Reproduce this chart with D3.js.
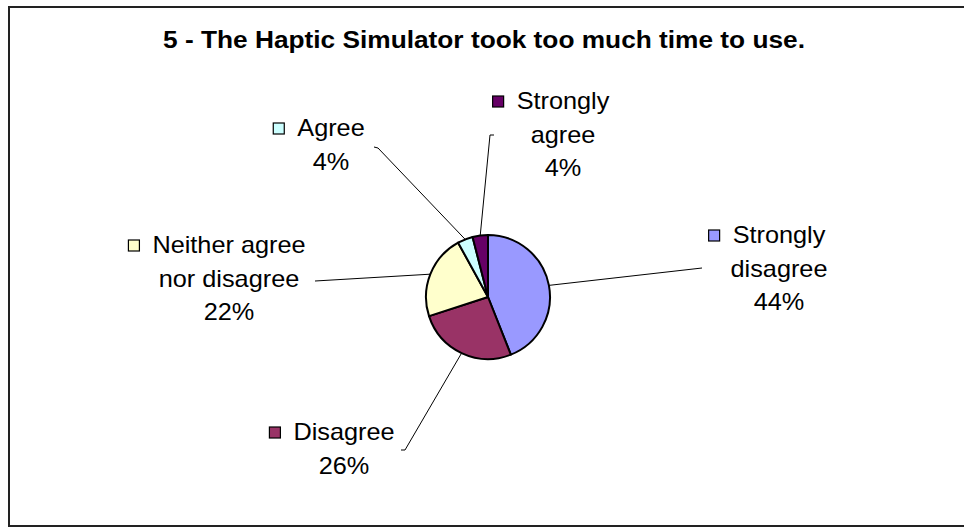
<!DOCTYPE html>
<html>
<head>
<meta charset="utf-8">
<script src="https://cdn.jsdelivr.net/npm/d3@7"></script>
<style>
  body { margin: 0; background: #fff; }
  text { font-family: "Liberation Sans", Arial, sans-serif; fill: #000; }
</style>
</head>
<body>
<div id="chart"></div>
<script>
// survey answers, in the order Excel draws them (clockwise from 12 o'clock)
let categories = ['Strongly disagree', 'Disagree', 'Neither agree nor disagree', 'Agree', 'Strongly agree'];
let shares = [44, 26, 22, 4, 4];
let sliceColors = ['#9999FF', '#993366', '#FFFFCC', '#CCFFFF', '#660066'];
let labelLines = [
    ['Strongly', 'disagree'],
    ['Disagree'],
    ['Neither agree', 'nor disagree'],
    ['Agree'],
    ['Strongly', 'agree']
];

let svgwidth = 964;
let svgheight = 529;

// where each data label sits and where its leader line ends
let spots = [
    {cx: 779, y: 243, end: [702, 268], tick: null},
    {cx: 344, y: 440, end: [405, 450], tick: [401, 450]},
    {cx: 229, y: 253, end: [315, 281], tick: null},
    {cx: 331, y: 136, end: [378, 148], tick: [374, 147]},
    {cx: 563, y: 109, end: [490, 135], tick: [494, 135]}
];
let lineGap = 33.5;
// the original text is a little wider than Arial, so stretch it sideways
let stretch = 1.1;

let svg = d3.select('#chart')
    .append('svg')
    .attr('width', svgwidth)
    .attr('height', svgheight);

// chart area border
svg.append('rect')
    .attr('x', 9)
    .attr('y', 7)
    .attr('width', 980)
    .attr('height', 519)
    .attr('fill', 'none')
    .attr('stroke', '#222')
    .attr('stroke-width', 2);

svg.append('text')
    .attr('x', 484)
    .attr('y', 48)
    .attr('text-anchor', 'middle')
    .attr('font-size', '23px')
    .attr('font-weight', 'bold')
    .attr('textLength', 642)
    .attr('lengthAdjust', 'spacingAndGlyphs')
    .text('5 - The Haptic Simulator took too much time to use.');

let cx = 488, cy = 297, radius = 62;

let pie = d3.pie().sort(null).value(d => d)(shares);
let arc = d3.arc().innerRadius(0).outerRadius(radius);

let pieGroup = svg.append('g')
    .attr('transform', `translate(${cx}, ${cy})`);

// leader lines, from the slice edge out to the label
let leaders = svg.append('g');
pie.forEach(function(p, i) {
    let mid = (p.startAngle + p.endAngle) / 2;
    let sx = cx + radius * Math.sin(mid);
    let sy = cy - radius * Math.cos(mid);
    let pts = [[sx, sy], spots[i].end];
    if (spots[i].tick) pts.push(spots[i].tick);
    leaders.append('path')
        .attr('d', d3.line()(pts))
        .attr('fill', 'none')
        .attr('stroke', '#000')
        .attr('stroke-width', 1);
});

pieGroup.selectAll('path')
    .data(pie)
    .enter()
    .append('path')
    .attr('d', arc)
    .attr('fill', (d, i) => sliceColors[i])
    .attr('stroke', '#000')
    .attr('stroke-width', 2)
    .attr('stroke-linejoin', 'round');

// data labels: legend key + category lines + percentage
let labels = svg.append('g');
categories.forEach(function(cat, i) {
    let s = spots[i];
    let lines = labelLines[i].concat([shares[i] + '%']);
    let g = labels.append('g');
    lines.forEach(function(line, j) {
        let t = g.append('text')
            .attr('transform', `translate(${s.cx}, ${s.y + j * lineGap}) scale(${stretch}, 1)`)
            .attr('text-anchor', 'middle')
            .attr('font-size', '23px')
            .text(line);
        if (j === 0) {
            let w = t.node().getComputedTextLength() * stretch;
            g.append('rect')
                .attr('x', s.cx - w / 2 - 24)
                .attr('y', s.y - 13)
                .attr('width', 11)
                .attr('height', 11)
                .attr('fill', sliceColors[i])
                .attr('stroke', '#000')
                .attr('stroke-width', 1.2);
        }
    });
});
</script>
</body>
</html>
